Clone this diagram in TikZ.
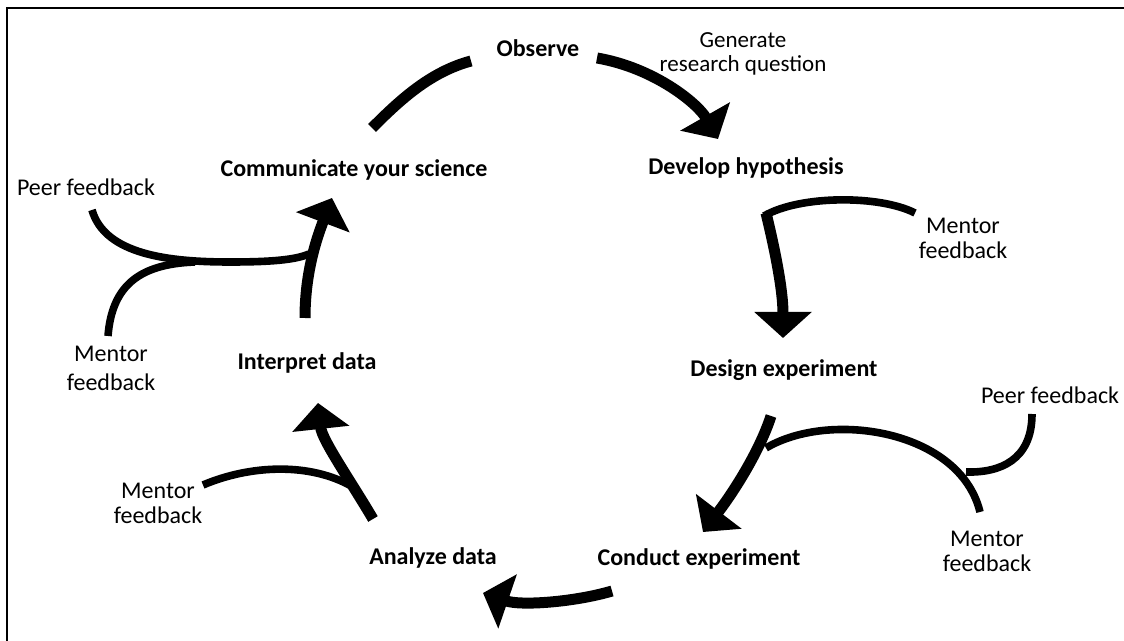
\documentclass[tikz,border=0pt]{standalone}
\usepackage{fontspec}
\setmainfont{Carlito}
\usetikzlibrary{arrows.meta}
\begin{document}
\begin{tikzpicture}[x=0.5pt,y=-0.5pt,
  stage/.style={font=\fontsize{12}{14}\selectfont\bfseries, inner sep=0pt},
  note/.style={font=\fontsize{12}{12.5}\selectfont, align=center, inner sep=0pt},
  flow/.style={line width=5.5pt, -{Triangle[width=28pt,length=13pt]}},
  plainflow/.style={line width=5.5pt},
  fb/.style={line width=3.8pt}]
\useasboundingbox (0,0) rectangle (1124,641);
\clip (0,0) rectangle (1124,641);
% outer frame
\draw[line width=1.3pt] (7,8) rectangle (1140,660);

% stages of the cycle
\node[stage] (obs) at (538,48) {Observe};
\node[stage] (hyp) at (746,168) {Develop hypothesis};
\node[stage] (des) at (784,370) {Design experiment};
\node[stage] (con) at (699,559) {Conduct experiment};
\node[stage] (ana) at (433,558) {Analyze data};
\node[stage] (int) at (307,363) {Interpret data};
\node[stage] (com) at (354,170) {Communicate your science};

% side notes
\node[note, font=\fontsize{11.5}{12}\selectfont] (gen) at (743,54) {Generate\\research question};
\node[note] (peerL) at (86,187) {Peer feedback};
\node[note] (peerR) at (1050,395) {Peer feedback};
\node[note] (mentA) at (963,238) {Mentor\\feedback};
\node[note, font=\fontsize{12}{14.5}\selectfont] (mentB) at (111,368) {Mentor\\feedback};
\node[note] (mentC) at (158,503) {Mentor\\feedback};
\node[note] (mentD) at (987,551) {Mentor\\feedback};

% connector end points
\coordinate (c1a) at (372,128);  \coordinate (c1b) at (471,61);
\coordinate (c2a) at (597,58);   \coordinate (c2b) at (718,139);
\coordinate (c3a) at (766,213);  \coordinate (c3b) at (783,338);
\coordinate (c4a) at (771,416);  \coordinate (c4b) at (703,532);
\coordinate (c5a) at (612,591);  \coordinate (c5b) at (483,593);
\coordinate (c6a) at (373,519);  \coordinate (c6b) at (318,403);
\coordinate (c7a) at (305,318);  \coordinate (c7b) at (332,198);

\coordinate (fA) at (915,213);   \coordinate (jA) at (764,216);
\coordinate (fD) at (980,512);   \coordinate (jD) at (766,448);
\coordinate (fR) at (1032,414);  \coordinate (jR) at (966,472);
\coordinate (fC) at (203,485);   \coordinate (jC) at (353,487);
\coordinate (fL) at (92,210);    \coordinate (jL) at (309,254);
\coordinate (fB) at (108,336);   \coordinate (jB) at (195,262);

% main cycle
\draw[plainflow] (c1a) .. controls (400,100) and (430,72) .. (c1b);
\draw[flow] (c2a) .. controls (655,68) and (698,104) .. (c2b);
\draw[flow] (c3a) .. controls (775,250) and (783,290) .. (c3b);
\draw[flow] (c4a) .. controls (760,450) and (735,490) .. (c4b);
\draw[flow] (c5a) .. controls (575,602) and (521,606) .. (c5b);
\draw[flow] (c6a) .. controls (350,480) and (322,440) .. (c6b);
\draw[flow] (c7a) .. controls (305,270) and (318,235) .. (c7b);

% feedback joining the cycle
\draw[fb] (fA) .. controls (880,195) and (800,195) .. (jA);
\draw[fb] (fD) .. controls (960,430) and (830,410) .. (jD);
\draw[fb] (fR) .. controls (1032,460) and (1000,473) .. (jR);
\draw[fb] (fC) .. controls (250,465) and (310,462) .. (jC);
\draw[fb] (fL) .. controls (105,255) and (170,262) .. (230,262)
               .. controls (270,262) and (295,260) .. (jL);
\draw[fb] (fB) .. controls (112,285) and (140,264) .. (jB);
\end{tikzpicture}
\end{document}
